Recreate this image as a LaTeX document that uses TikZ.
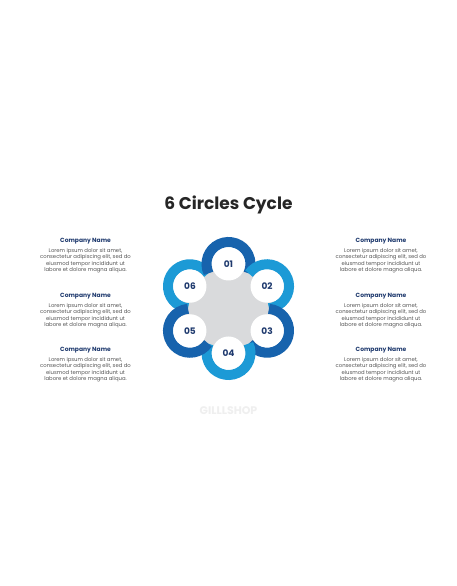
\documentclass[tikz,border=0pt]{standalone}
\usepackage{fontspec}
\setmainfont{Poppins}
\usetikzlibrary{calc}
\definecolor{darkring}{HTML}{1763AD}
\definecolor{lightring}{HTML}{1C9AD6}
\definecolor{hubgray}{HTML}{D9DADC}
\definecolor{navy}{HTML}{1F3A6E}
\definecolor{bodygray}{HTML}{555555}
\definecolor{wmark}{HTML}{EFEFEF}
\tikzset{
  ringarc/.style={line width=10pt},
  numdisc/.style={circle, fill=white, minimum size=33pt, inner sep=0pt,
    font=\fontsize{9}{10}\selectfont\bfseries, text=navy},
  headtext/.style={font=\fontsize{6}{7}\selectfont\bfseries, text=navy, anchor=center},
  bodytext/.style={font=\fontsize{5.3}{6.6}\selectfont, text=bodygray, align=center, anchor=north},
}
\begin{document}
\begin{tikzpicture}[x=1pt,y=1pt]
\useasboundingbox (0,0) rectangle (456,586);
\fill[white] (0,0) rectangle (456,586);
% title
\node[font=\fontsize{17}{20}\selectfont\bfseries, text=black!85] (title) at (228.5,381) {6 Circles Cycle};
% hub
\coordinate (hub) at (228.5,277.5);
\fill[hubgray] (hub) circle[radius=47];
\foreach \i/\a in {1/90,2/30,3/-30,4/-90,5/-150,6/150}{
  \coordinate (p\i) at ($(hub)+(\a:44.5)$);
}
% rings: drawn so each start overlaps the previous end
\foreach \i/\a/\c in {6/150/lightring,1/90/darkring,2/30/lightring,3/-30/darkring,4/-90/lightring,5/-150/darkring}{
  \draw[ringarc, \c] ($(p\i)+(\a+115:22)$) arc[start angle=\a+115, end angle=\a-115, radius=22];
}
% white number discs
\foreach \i in {1,...,6}{
  \node[numdisc] (c\i) at (p\i) {0\i};
}
% text blocks
\foreach \n/\x/\y in {l1/85.5/345, l2/85.5/290, l3/85.5/236, r1/381/345, r2/381/290, r3/381/236}{
  \node[headtext] (h\n) at (\x,\y) {Company Name};
  \node[bodytext] (b\n) at (\x,\y-3.5) {Lorem ipsum dolor sit amet,\\consectetur adipiscing elit, sed do\\eiusmod tempor incididunt ut\\labore et dolore magna aliqua.};
}
% watermark
\node[font=\fontsize{11}{12}\selectfont\bfseries, text=wmark] (wm) at (228.5,175) {GILLLSHOP};
\end{tikzpicture}
\end{document}
